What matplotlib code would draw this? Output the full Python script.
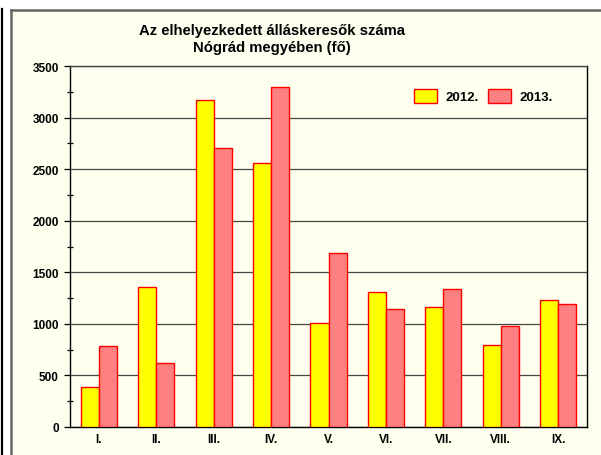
import matplotlib
matplotlib.use("Agg")
import matplotlib.pyplot as plt
from matplotlib.patches import Rectangle
from matplotlib.lines import Line2D
import numpy as np

categories = ["I.", "II.", "III.", "IV.", "V.", "VI.", "VII.", "VIII.", "IX."]
values_2012 = [385, 1355, 3175, 2560, 1005, 1305, 1168, 795, 1232]
values_2013 = [783, 618, 2706, 3298, 1690, 1141, 1335, 977, 1196]
series_labels = ["2012.", "2013."]
yticks = [0, 500, 1000, 1500, 2000, 2500, 3000, 3500]

W, H = 601, 456
fig = plt.figure(figsize=(W / 100, H / 100), dpi=100)
fig.patch.set_facecolor("white")
FONT = "Liberation Sans"
BG = "#FFFFF0"

# chart frame: ivory fill, gray left/top edges (right and bottom fall outside the image)
fx, fy = 11 / W, 1 - 11 / H
fig.patches.append(Rectangle((fx, 0), 1 - fx, fy, transform=fig.transFigure,
                             facecolor=BG, edgecolor="none", zorder=-10))
fig.lines.append(Line2D([fx, fx], [0, fy], transform=fig.transFigure,
                        color="#666666", linewidth=1.8, zorder=-9))
fig.lines.append(Line2D([fx, 1], [fy, fy], transform=fig.transFigure,
                        color="#666666", linewidth=1.8, zorder=-9))
fig.lines.append(Line2D([2 / W, 2 / W], [0, 1 - 10 / H], transform=fig.transFigure,
                        color="black", linewidth=1.6, zorder=-9))

ax = fig.add_axes([70 / W, (H - 428) / H, (587 - 70) / W, (428 - 67) / H])
ax.set_facecolor(BG)
x = np.arange(len(categories))
w = 0.314
ax.bar(x - w / 2, values_2012, w, color="#FFFF00", edgecolor="#FF0000", linewidth=1.0,
       label=series_labels[0], zorder=3)
ax.bar(x + w / 2, values_2013, w, color="#FF8080", edgecolor="#FF0000", linewidth=1.0,
       label=series_labels[1], zorder=3)

ax.set_xlim(-0.5, len(categories) - 0.5)
ax.set_ylim(0, 3500)
ax.set_yticks(yticks)
ax.set_yticks(np.arange(250, 3500, 500), minor=True)
ax.yaxis.grid(True, which="major", color="#444444", linewidth=0.9, zorder=0)
ax.set_axisbelow(True)
ax.set_xticks(x)
ax.set_xticklabels(categories, fontfamily=FONT, fontweight="bold", fontsize=8.5)
ax.set_yticklabels([str(v) for v in yticks], fontfamily=FONT, fontweight="bold", fontsize=8.5)
ax.tick_params(axis="x", length=0, pad=4)
ax.tick_params(axis="y", which="major", length=4, width=0.9, direction="out", pad=4)
ax.tick_params(axis="y", which="minor", length=4, width=0.9, direction="inout")
for s in ["left", "bottom", "right", "top"]:
    ax.spines[s].set_color("black")
    ax.spines[s].set_linewidth(1.0)
ax.spines["top"].set_color("#444444")

fig.text(272 / W, 1 - 31 / H, "Az elhelyezkedett álláskeresők száma", ha="center", va="center",
         fontfamily=FONT, fontweight="bold", fontsize=10.7)
fig.text(272 / W, 1 - 48 / H, "Nógrád megyében (fő)", ha="center", va="center",
         fontfamily=FONT, fontweight="bold", fontsize=10.7)

leg = ax.legend(loc="upper right", bbox_to_anchor=((562 - 70) / (587 - 70), (428 - 81) / (428 - 67)),
                ncol=2, frameon=False, prop={"family": FONT, "weight": "bold", "size": 9.5},
                handlelength=1.8, handleheight=1.2, handletextpad=0.6, columnspacing=0.7,
                borderpad=0.2)

fig.savefig("out.png", dpi=100, facecolor=fig.get_facecolor())
